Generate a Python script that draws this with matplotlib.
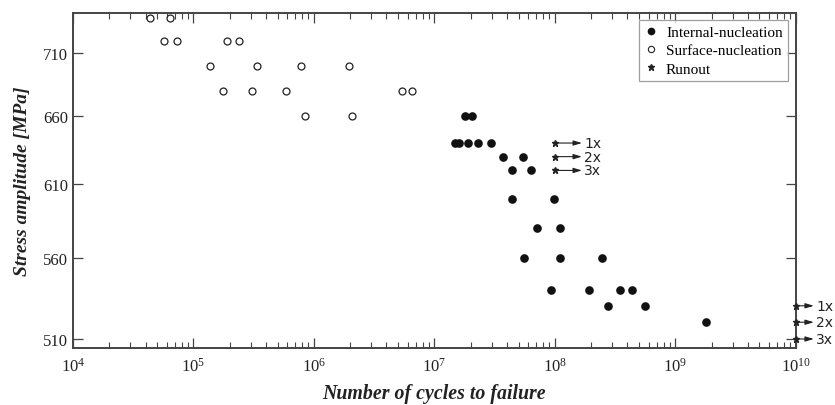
import matplotlib
matplotlib.use("Agg")
import matplotlib.pyplot as plt
from matplotlib.ticker import (FixedLocator, NullLocator, FixedFormatter, LogLocator,
                               LogFormatterMathtext, NullFormatter)
from matplotlib.lines import Line2D

plt.rcParams['font.family'] = ['Liberation Serif', 'DejaVu Serif']
plt.rcParams['mathtext.fontset'] = 'custom'
plt.rcParams['mathtext.rm'] = 'Liberation Serif'
plt.rcParams['mathtext.it'] = 'Liberation Serif:italic'
plt.rcParams['mathtext.bf'] = 'Liberation Serif:bold'

# Surface-nucleation (open circles)
surf_N = [4.36e4, 6.43e4, 5.73e4, 7.35e4, 1.89e5, 2.38e5,
          1.36e5, 3.36e5, 7.79e5, 1.97e6,
          1.77e5, 3.08e5, 5.91e5, 5.43e6, 6.5e6,
          8.4e5, 2.07e6]
surf_S = [740, 740, 720, 720, 720, 720,
          700, 700, 700, 700,
          680, 680, 680, 680, 680,
          660, 660]

# Internal-nucleation (filled circles)
int_N = [1.78e7, 2.07e7,
         1.47e7, 1.59e7, 1.90e7, 2.30e7, 2.96e7,
         3.68e7, 5.46e7,
         4.43e7, 6.37e7,
         4.43e7, 9.83e7,
         7.14e7, 1.10e8,
         5.57e7, 1.10e8, 2.48e8,
         9.33e7, 1.93e8, 3.45e8, 4.40e8,
         2.78e8, 5.56e8,
         1.80e9]
int_S = [660, 660,
         640, 640, 640, 640, 640,
         630, 630,
         620, 620,
         600, 600,
         580, 580,
         560, 560, 560,
         540, 540, 540, 540,
         530, 530,
         520]

# Runouts
run_N = [1e8, 1e8, 1e8, 1e10, 1e10, 1e10]
run_S = [640, 630, 620, 530, 520, 510]
run_labels = ['1x', '2x', '3x', '1x', '2x', '3x']

y_ticks = [510, 560, 610, 660, 710]
x_ticks = [1e4, 1e5, 1e6, 1e7, 1e8, 1e9, 1e10]

fig = plt.figure(figsize=(8.35, 4.06), dpi=100)
ax = fig.add_axes([0.0874, 0.1404, 0.8656, 0.8263])

ax.set_xscale('log')
ax.set_yscale('log')

ax.plot(surf_N, surf_S, 'o', mfc='white', mec='#222222', mew=0.9, ms=5, ls='none', clip_on=False)
ax.plot(int_N, int_S, 'o', mfc='#111111', mec='#111111', ms=5.2, ls='none', clip_on=False)
ax.plot(run_N, run_S, '*', color='#222222', ms=5, ls='none', clip_on=False, zorder=5)

for n, s, lab in zip(run_N, run_S, run_labels):
    # arrows at the right edge are a bit shorter so the labels stay inside the figure
    alen = 0.225 if n < 1e10 else 0.15
    ax.annotate('', xy=(n * 10**alen, s), xytext=(n, s),
                arrowprops=dict(arrowstyle='-|>,head_length=0.5,head_width=0.15',
                                color='#222222', lw=0.8, shrinkA=0, shrinkB=0),
                annotation_clip=False)
    ax.text(n * 10**(alen + 0.02), s, lab, fontsize=10, family='DejaVu Sans',
            va='center', ha='left', color='#222222', clip_on=False)

ax.set_xlim(1e4, 1e10)
ax.set_ylim(504.7, 744.5)

ax.xaxis.set_major_locator(FixedLocator(x_ticks))
ax.xaxis.set_minor_locator(LogLocator(base=10, subs=range(2, 10), numticks=100))
ax.xaxis.set_major_formatter(LogFormatterMathtext())
ax.xaxis.set_minor_formatter(NullFormatter())

ax.yaxis.set_major_locator(FixedLocator(y_ticks))
ax.yaxis.set_major_formatter(FixedFormatter([str(v) for v in y_ticks]))
ax.yaxis.set_minor_locator(NullLocator())
ax.yaxis.set_minor_formatter(NullFormatter())

ax.tick_params(axis='both', which='both', direction='in', top=True, right=True,
               colors='#444444', labelcolor='#222222')
ax.tick_params(axis='both', which='major', length=7, width=0.9, labelsize=12)
ax.tick_params(axis='x', which='minor', length=4, width=0.8)
ax.tick_params(axis='x', which='major', pad=6)

for sp in ax.spines.values():
    sp.set_color('#444444')
    sp.set_linewidth(1.4)

ax.set_xlabel('Number of cycles to failure', fontsize=14.3, fontweight='bold',
              fontstyle='italic', color='#222222', labelpad=6.5)
ax.set_ylabel('Stress amplitude [MPa]', fontsize=14, fontweight='bold',
              fontstyle='italic', color='#222222', labelpad=8.5)

handles = [
    Line2D([], [], marker='o', ls='none', mfc='#111111', mec='#111111', ms=4.5),
    Line2D([], [], marker='o', ls='none', mfc='white', mec='#222222', mew=0.8, ms=4.5),
    Line2D([], [], marker='*', ls='none', color='#222222', ms=4.5),
]
leg = ax.legend(handles, ['Internal-nucleation', 'Surface-nucleation', 'Runout'],
                loc='upper right', fontsize=11, frameon=True, fancybox=False,
                handlelength=0.8, handletextpad=0.6, borderpad=0.35,
                labelspacing=0.3, borderaxespad=0.5)
leg.get_frame().set_edgecolor('#888888')
leg.get_frame().set_linewidth(0.9)

fig.savefig('out.png', dpi=100)
